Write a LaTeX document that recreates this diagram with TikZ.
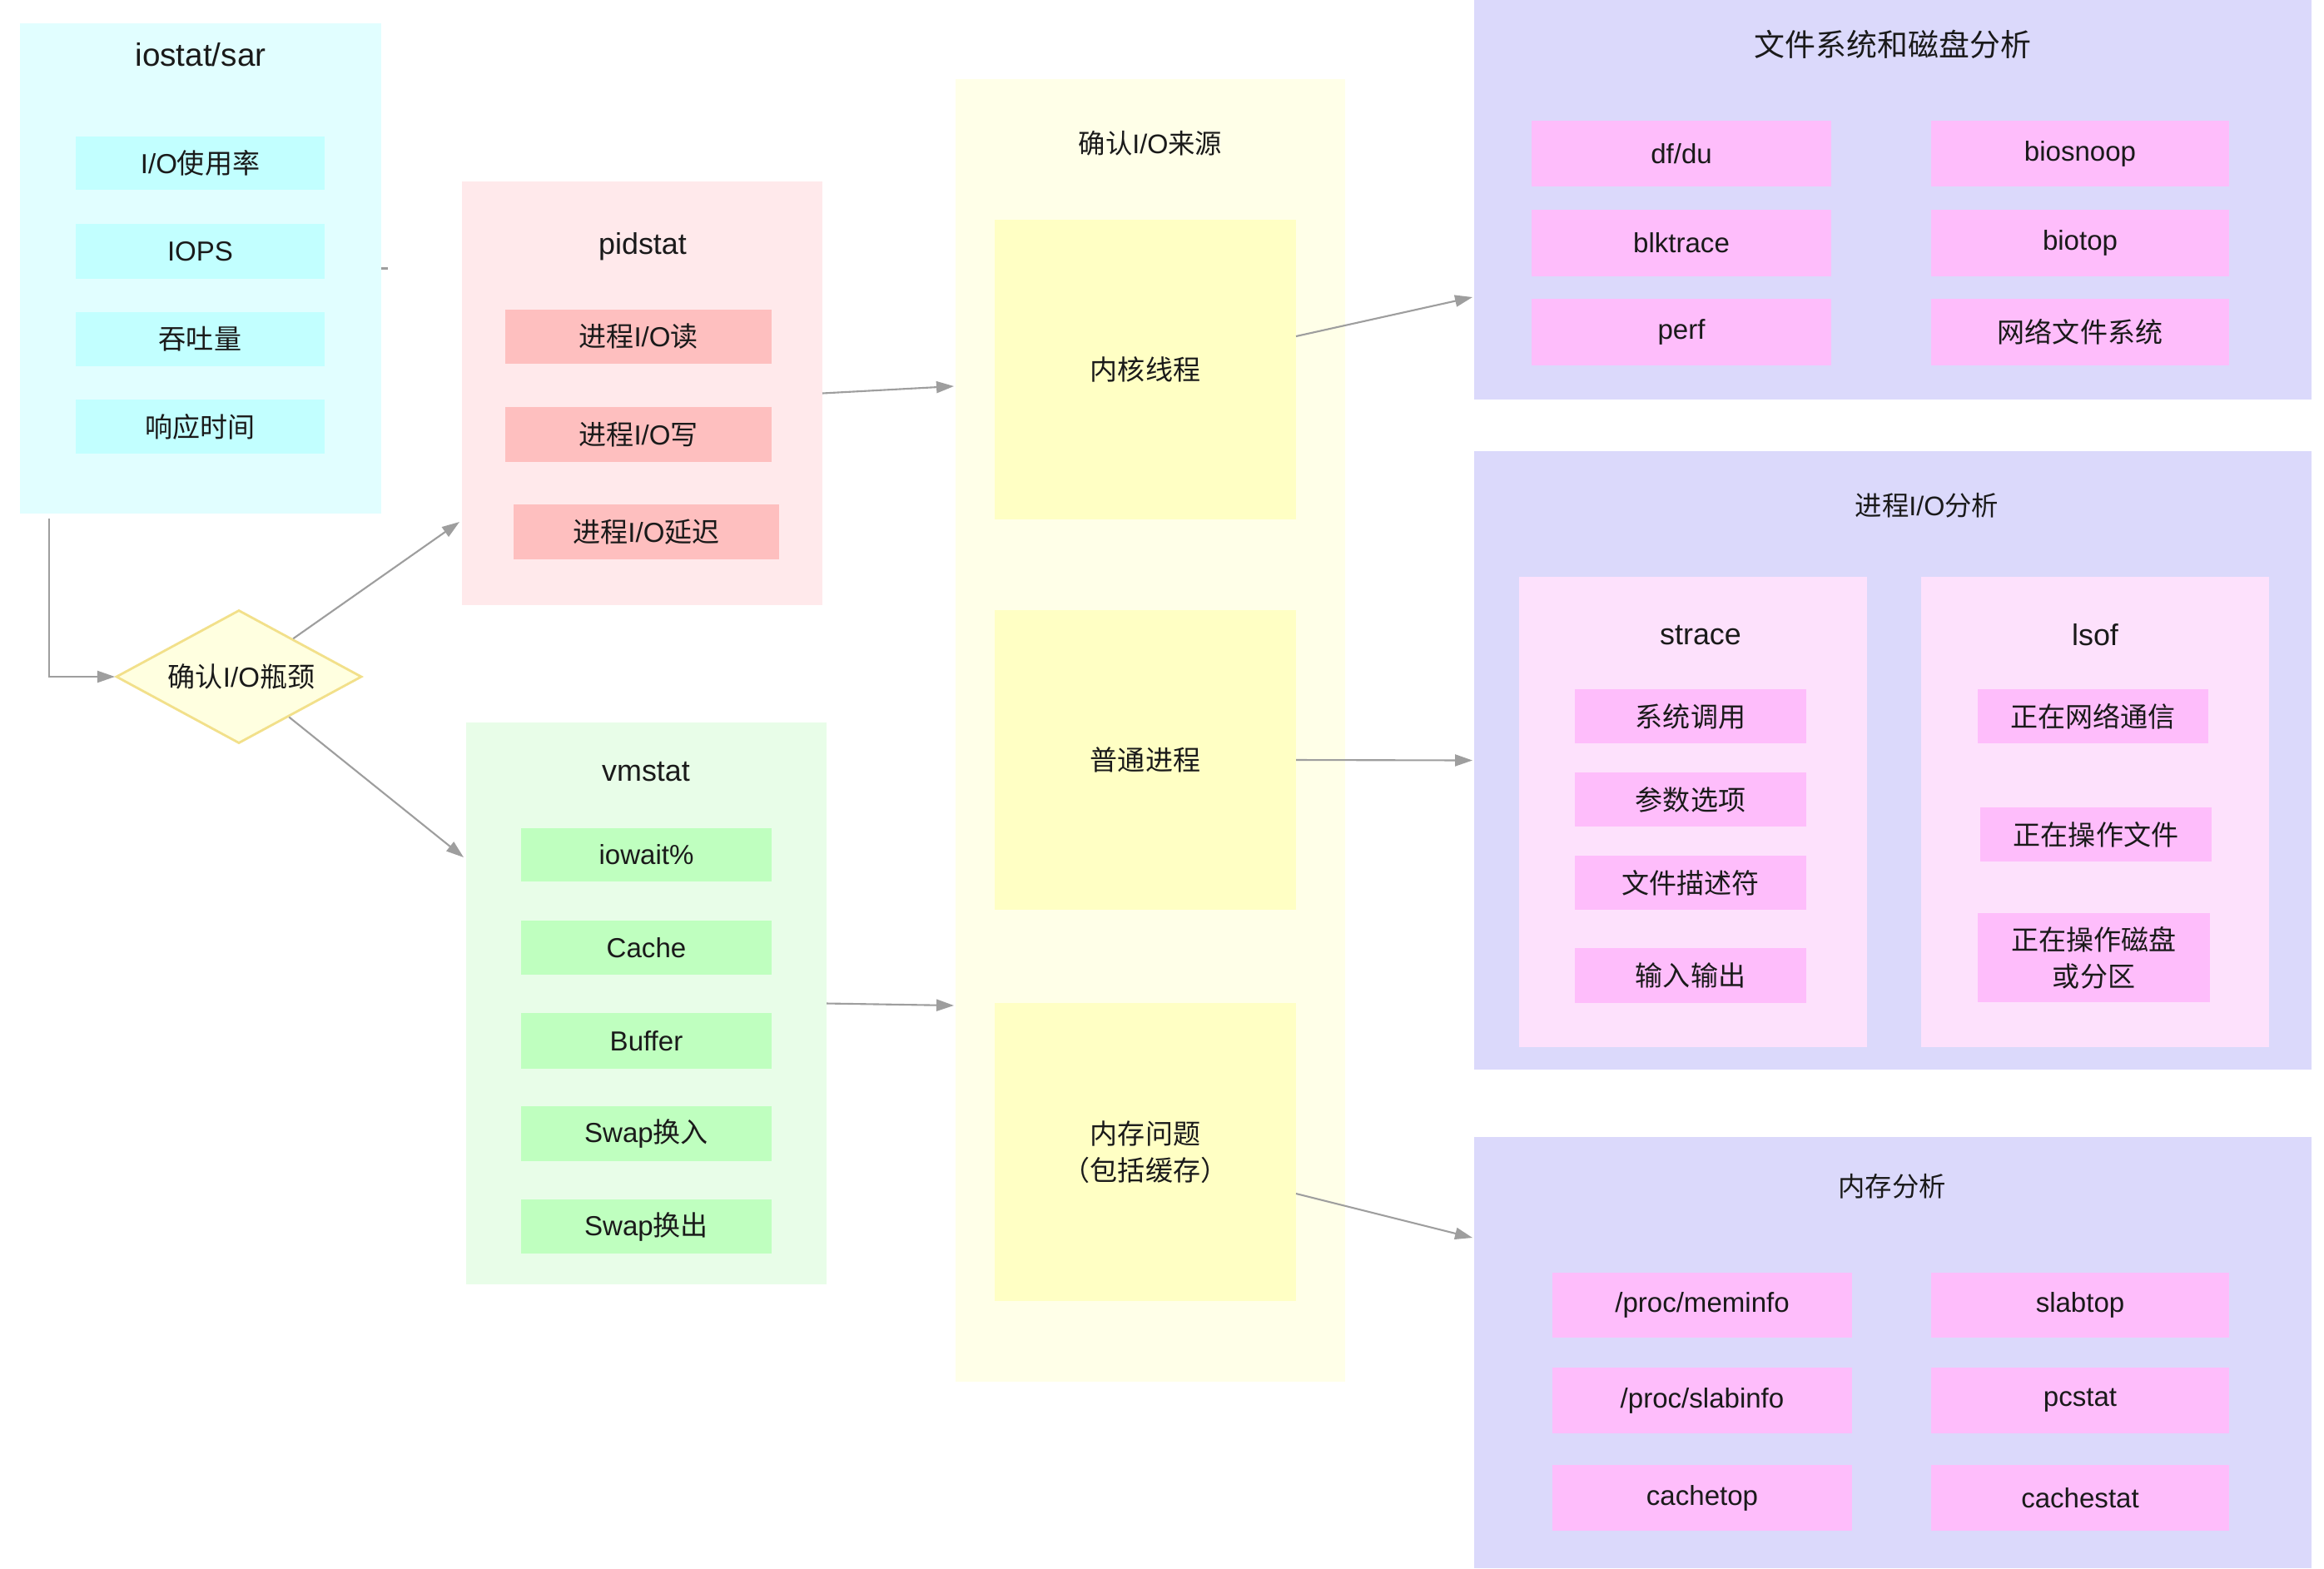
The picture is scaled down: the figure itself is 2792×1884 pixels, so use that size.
\documentclass[tikz,border=0pt]{standalone}
\usepackage{fontspec}
\setmainfont{Liberation Sans}
\newfontfamily\zhfont{Noto Sans CJK SC}
\newcommand{\z}[1]{{\zhfont #1}}
\usetikzlibrary{arrows.meta,shapes.geometric,fit,calc}
\definecolor{cyanbg}{HTML}{E1FEFF}
\definecolor{cyanit}{HTML}{C2FFFF}
\definecolor{pinkbg}{HTML}{FFE9EB}
\definecolor{pinkit}{HTML}{FEBFBF}
\definecolor{greenbg}{HTML}{E8FDE8}
\definecolor{greenit}{HTML}{BFFFBF}
\definecolor{yelbg}{HTML}{FFFFE8}
\definecolor{yelit}{HTML}{FFFFC4}
\definecolor{diafill}{HTML}{FFFFE0}
\definecolor{diadraw}{HTML}{F2E08A}
\definecolor{lavbg}{HTML}{DBD9FB}
\definecolor{magit}{HTML}{FEBDFB}
\definecolor{magbg}{HTML}{FDE1FC}
\definecolor{linegray}{HTML}{9E9E9E}
\definecolor{ink}{HTML}{1A1A1A}
% box from two corners, with its text centred on a separate node
\newcommand{\itembox}[4]{%
  \node[#1, fit={#2}] (#3) {};
  \node[itemfont] (#3T) at (#3.center) {#4};}
\begin{document}
\begin{tikzpicture}[x=0.01cm,y=-0.01cm,
  area/.style={inner sep=0pt, outer sep=0pt, draw=none},
  itemfont/.style={font=\fontsize{9.4}{12.5}\selectfont, text=ink, align=center, inner sep=0pt},
  titlefont/.style={font=\fontsize{10.2}{13}\selectfont, text=ink, inner sep=0pt},
  smalltitle/.style={font=\fontsize{9.2}{12}\selectfont, text=ink, inner sep=0pt},
  bigtitle/.style={font=\fontsize{10.5}{13}\selectfont, text=ink, inner sep=0pt},
  cyanitem/.style={area, fill=cyanit},
  pinkitem/.style={area, fill=pinkit},
  greenitem/.style={area, fill=greenit},
  yelitem/.style={area, fill=yelit},
  magitem/.style={area, fill=magit},
  conn/.style={draw=linegray, line width=0.6pt, -{Triangle[length=2.1mm,width=1.4mm]}},
  stub/.style={draw=linegray, line width=0.6pt},
  diashape/.style={diamond, draw=diadraw, fill=diafill, line width=0.8pt, inner sep=0pt,
    minimum width=2.95cm, minimum height=1.6cm}
]
\useasboundingbox (0,0) rectangle (2792,1884);
\fill[white] (0,0) rectangle (2792,1884);

% ---------------- iostat/sar
\node[area, fill=cyanbg, fit={(24,28)(458,617)}] (iostat) {};
\node[titlefont, font=\fontsize{11}{13}\selectfont] (iostatT) at (241,66) {iostat/sar};
\itembox{cyanitem}{(91,164)(390,228)}{io1}{I/O\z{使用率}}
\itembox{cyanitem}{(91,269)(390,335)}{io2}{IOPS}
\itembox{cyanitem}{(91,375)(390,440)}{io3}{\z{吞吐量}}
\itembox{cyanitem}{(91,480)(390,545)}{io4}{\z{响应时间}}

% ---------------- pidstat
\node[area, fill=pinkbg, fit={(555,218)(988,727)}] (pid) {};
\node[titlefont] (pidT) at (772,296) {pidstat};
\itembox{pinkitem}{(607,372)(927,437)}{pid1}{\z{进程}I/O\z{读}}
\itembox{pinkitem}{(607,489)(927,555)}{pid2}{\z{进程}I/O\z{写}}
\itembox{pinkitem}{(617,606)(936,672)}{pid3}{\z{进程}I/O\z{延迟}}

% ---------------- vmstat
\node[area, fill=greenbg, fit={(560,868)(993,1543)}] (vm) {};
\node[titlefont] (vmT) at (776,927) {vmstat};
\itembox{greenitem}{(626,995)(927,1059)}{vm1}{iowait\%}
\itembox{greenitem}{(626,1106)(927,1171)}{vm2}{Cache}
\itembox{greenitem}{(626,1217)(927,1284)}{vm3}{Buffer}
\itembox{greenitem}{(626,1329)(927,1395)}{vm4}{Swap\z{换入}}
\itembox{greenitem}{(626,1441)(927,1506)}{vm5}{Swap\z{换出}}

% ---------------- diamond
\node[diashape] (dia) at (287,813) {};
\node[itemfont] (diaT) at (290,813) {\z{确认}I/O\z{瓶颈}};

% ---------------- source
\node[area, fill=yelbg, fit={(1148,95)(1616,1660)}] (src) {};
\node[smalltitle] (srcT) at (1382,172) {\z{确认}I/O\z{来源}};
\itembox{yelitem}{(1195,264)(1557,624)}{kern}{\z{内核线程}}
\itembox{yelitem}{(1195,733)(1557,1093)}{norm}{\z{普通进程}}
\itembox{yelitem}{(1195,1205)(1557,1563)}{memq}{\z{内存问题}\\\z{（包括缓存）}}

% ---------------- file system
\node[area, fill=lavbg, fit={(1771,0)(2777,480)}] (fs) {};
\node[bigtitle] (fsT) at (2274,53) {\z{文件系统和磁盘分析}};
\itembox{magitem}{(1840,145)(2200,224)}{fs1}{df/du}
\itembox{magitem}{(2320,145)(2678,224)}{fs2}{biosnoop}
\itembox{magitem}{(1840,252)(2200,332)}{fs3}{blktrace}
\itembox{magitem}{(2320,252)(2678,332)}{fs4}{biotop}
\itembox{magitem}{(1840,359)(2200,439)}{fs5}{perf}
\itembox{magitem}{(2320,359)(2678,439)}{fs6}{\z{网络文件系统}}

% ---------------- process I/O
\node[area, fill=lavbg, fit={(1771,542)(2777,1285)}] (proc) {};
\node[smalltitle] (procT) at (2315,607) {\z{进程}I/O\z{分析}};
\node[area, fill=magbg, fit={(1825,693)(2243,1258)}] (strace) {};
\node[titlefont] (straceT) at (2043,763) {strace};
\node[area, fill=magbg, fit={(2308,693)(2726,1258)}] (lsof) {};
\node[titlefont] (lsofT) at (2517,763) {lsof};
\itembox{magitem}{(1892,828)(2170,893)}{st1}{\z{系统调用}}
\itembox{magitem}{(1892,928)(2170,993)}{st2}{\z{参数选项}}
\itembox{magitem}{(1892,1028)(2170,1093)}{st3}{\z{文件描述符}}
\itembox{magitem}{(1892,1139)(2170,1205)}{st4}{\z{输入输出}}
\itembox{magitem}{(2376,828)(2653,893)}{ls1}{\z{正在网络通信}}
\itembox{magitem}{(2379,970)(2657,1035)}{ls2}{\z{正在操作文件}}
\itembox{magitem}{(2376,1097)(2655,1204)}{ls3}{\z{正在操作磁盘}\\\z{或分区}}

% ---------------- memory
\node[area, fill=lavbg, fit={(1771,1366)(2777,1884)}] (mema) {};
\node[smalltitle] (memaT) at (2273,1425) {\z{内存分析}};
\itembox{magitem}{(1865,1529)(2225,1607)}{m1}{/proc/meminfo}
\itembox{magitem}{(2320,1529)(2678,1607)}{m2}{slabtop}
\itembox{magitem}{(1865,1643)(2225,1722)}{m3}{/proc/slabinfo}
\itembox{magitem}{(2320,1643)(2678,1722)}{m4}{pcstat}
\itembox{magitem}{(1865,1760)(2225,1839)}{m5}{cachetop}
\itembox{magitem}{(2320,1760)(2678,1839)}{m6}{cachestat}

% ---------------- connectors
\coordinate (ioOut) at (59,623);
\coordinate (pidIn) at (552,627);
\coordinate (vmIn) at (557,1030);
\coordinate (srcIn1) at (1146,464);
\coordinate (srcIn2) at (1146,1208);
\draw[stub] (iostat.east) -- ++(8,0);
\draw[conn] (ioOut) |- (dia.west);
\draw[conn] (dia) -- (pidIn);
\draw[conn] (dia) -- (vmIn);
\draw[conn] (pid.east) -- (srcIn1);
\draw[conn] (vm.east) -- (srcIn2);
\draw[conn] ($(kern.east)+(0,-40)$) -- ($(fs.south west)+(-2,-123)$);
\draw[conn] (norm.east) -- ($(proc.west)+(-2,0)$);
\draw[conn] ($(memq.east)+(0,50)$) -- ($(mema.north west)+(-2,121)$);
\end{tikzpicture}
\end{document}
